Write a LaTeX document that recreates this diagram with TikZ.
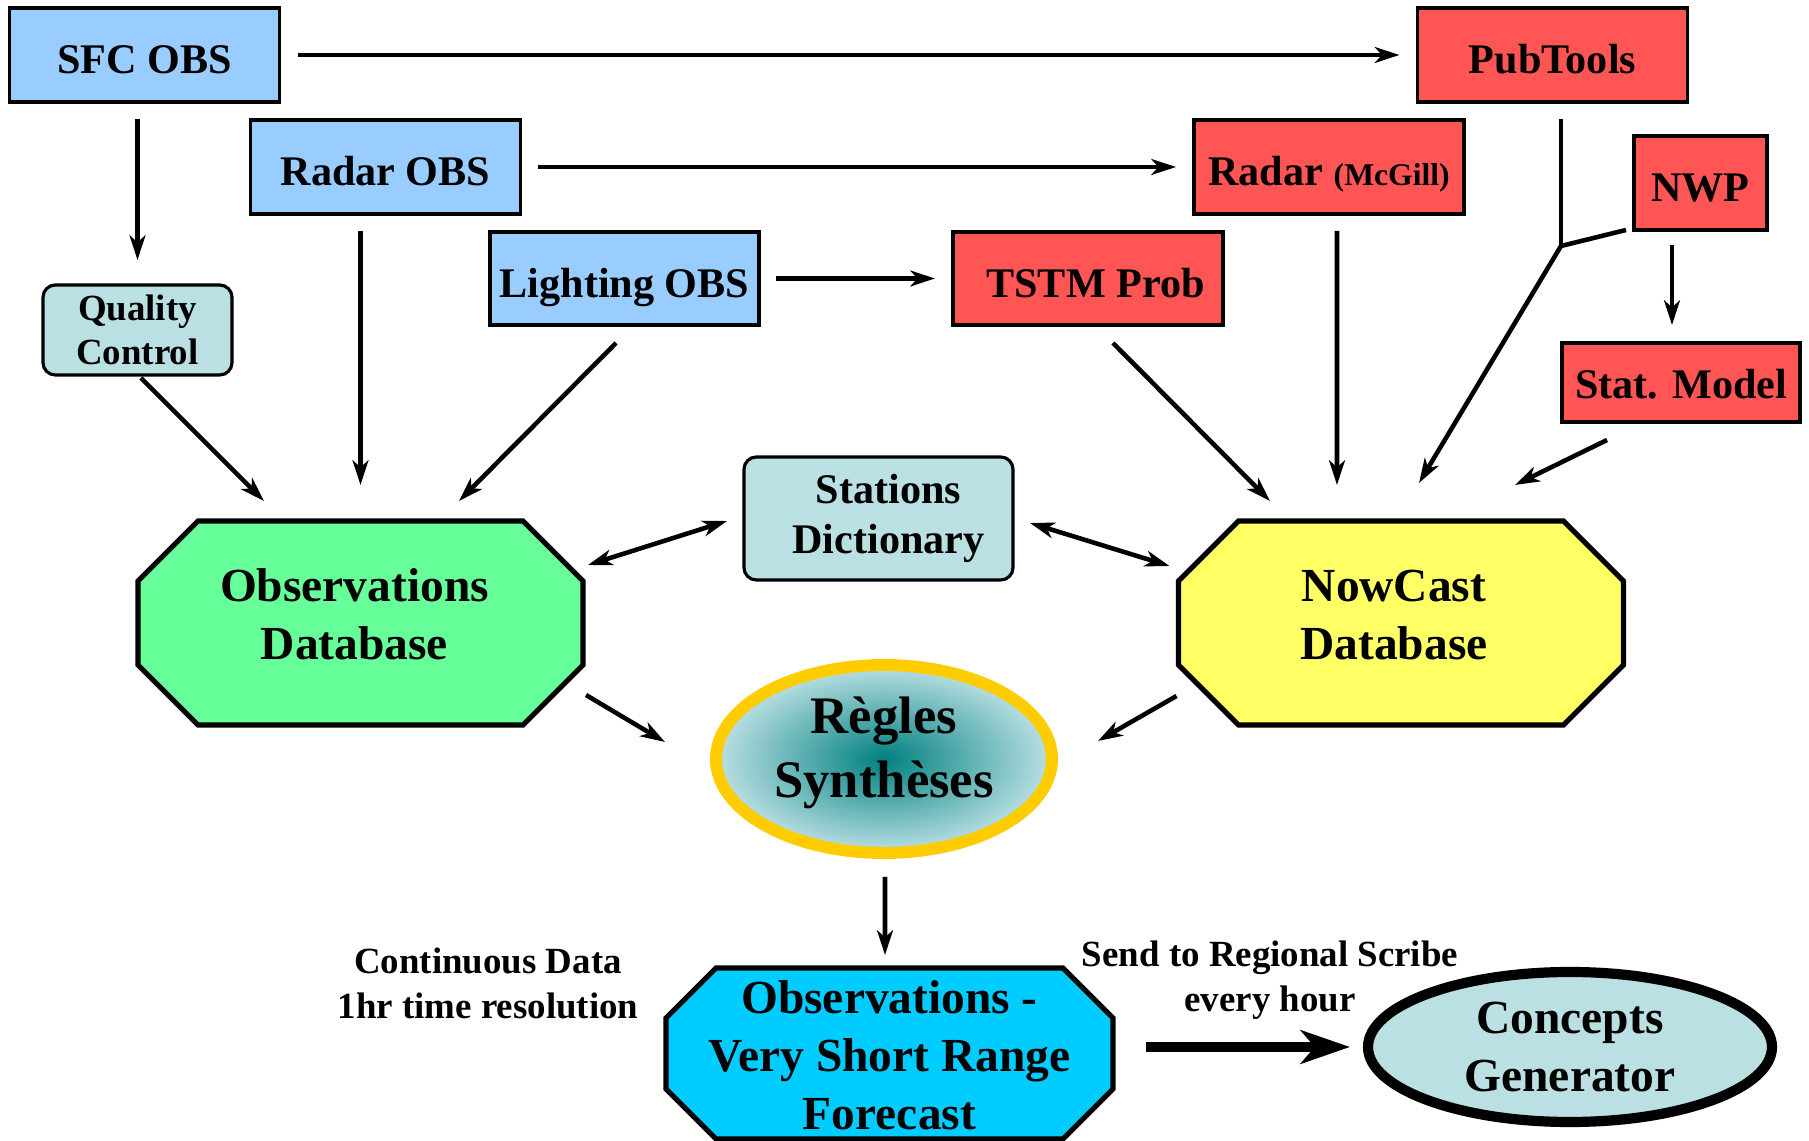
\documentclass[tikz,border=0pt]{standalone}
\usepackage{fontspec}
\setmainfont{Liberation Serif}
\usepackage{tikz}
\usetikzlibrary{arrows.meta,shapes.geometric,positioning,backgrounds}

\definecolor{obsblue}{HTML}{99CCFF}
\definecolor{prodred}{HTML}{FF5555}
\definecolor{paleteal}{HTML}{BBE0E3}
\definecolor{dbgreen}{HTML}{66FF99}
\definecolor{dbyellow}{HTML}{FFFF66}
\definecolor{vsrfblue}{HTML}{00CCFF}
\definecolor{ringgold}{HTML}{FFCC00}
\definecolor{deepteal}{HTML}{008080}

\newcommand{\fsz}[2]{\fontsize{#1}{#2}\selectfont\bfseries}
\newcommand{\octpath}[2]{([xshift=#2]#1.north west) -- ([xshift=-#2]#1.north east)
  -- ([yshift=-#2]#1.north east) -- ([yshift=#2]#1.south east)
  -- ([xshift=-#2]#1.south east) -- ([xshift=#2]#1.south west)
  -- ([yshift=#2]#1.south west) -- ([yshift=-#2]#1.north west) -- cycle}

\begin{document}
\begin{tikzpicture}
  [->,>={Stealth[length=7pt,width=4.5pt,inset=2pt]},line width=1.3pt,on grid,
   every node/.style={align=center,inner sep=0pt,outer sep=0pt}]
  \tikzstyle{srcbox}=[rectangle,draw=black,line width=0.9pt,fill=obsblue,
    minimum width=2.7cm,minimum height=0.94cm,text height=10.8pt,text depth=0pt,font=\fsz{12}{14}]
  \tikzstyle{prodbox}=[srcbox,fill=prodred]
  \tikzstyle{tealbox}=[rectangle,draw=black,line width=0.9pt,rounded corners=3.5pt,fill=paleteal]
  \tikzstyle{database}=[rectangle,text height=22pt,text depth=1.3pt,
    minimum width=4.45cm,minimum height=2.04cm,font=\fsz{13.5}{16.5}]
  \tikzstyle{dbline}=[-,draw=black,line width=1.5pt,line join=miter]
  \tikzstyle{notetext}=[font=\fsz{10.5}{12.8}]

  \useasboundingbox (0,0) rectangle (18.09,-11.41);

  \node[srcbox] (sfc) at (1.445,-0.55) {SFC OBS};
  \node[srcbox] (radarobs) [below right=1.12cm and 2.41cm of sfc] {Radar OBS};
  \node[srcbox,minimum width=2.69cm,minimum height=0.93cm] (lighting) [below right=1.115cm and 2.39cm of radarobs] {Lighting OBS};
  \node[tealbox,minimum width=1.89cm,minimum height=0.9cm,font=\fsz{10.5}{12.4}] (qc) at (1.375,-3.30) {Quality\\Control};
  \node[prodbox] (pub) at (15.525,-0.55) {PubTools};
  \node[prodbox] (mcgill) [below left=1.12cm and 2.235cm of pub] {Radar {\fsz{9}{10}(McGill)}};
  \node[prodbox,minimum height=0.93cm] (tstm) [below left=1.115cm and 2.41cm of mcgill] {\hspace{1.5mm}TSTM Prob};
  \node[prodbox,minimum width=1.33cm] (nwp) at (17.005,-1.83) {NWP};
  \node[prodbox,minimum width=2.38cm,minimum height=0.79cm,text height=9pt] (stat) at (16.81,-3.825) {Stat. Model};
  \node[tealbox,minimum width=2.69cm,minimum height=1.23cm,font=\fsz{12}{14.4}] (stations) at (8.785,-5.185) {\hspace{2mm}Stations\\\hspace{2mm}Dictionary};
  \node[database] (obsdb) at (3.605,-6.23) {Observations\hspace*{1.2mm}\\Database\hspace*{1.2mm}};
  \node[database] (nowcast) at (14.01,-6.23) {NowCast\hspace*{1.4mm}\\Database\hspace*{1.4mm}};
  \node[ellipse,draw=ringgold,line width=3.4pt,inner color=deepteal,outer color=paleteal,text depth=6.5pt,
    minimum width=3.36cm,minimum height=1.88cm,font=\fsz{15}{18.2}] (regles) at (8.84,-7.59) {Règles\\Synthèses};
  \node[database,text height=43.3pt,text depth=0pt,minimum width=4.47cm,minimum height=1.71cm] (vsrf)
    at (8.895,-10.535) {Observations -\\Very Short Range\\Forecast};
  \node[ellipse,draw=black,line width=2.9pt,fill=paleteal,minimum width=4.04cm,
    minimum height=1.5cm,font=\fsz{13.5}{16.5}] (concepts) at (15.70,-10.47) {Concepts\\Generator};
  \node[notetext] (contnote) at (4.88,-9.83) {Continuous Data\\1hr time resolution};
  \node[notetext] (sendnote) at (12.70,-9.80) {Send to Regional Scribe\\every hour};

  \begin{scope}[on background layer]
    \draw[dbline,fill=dbgreen] \octpath{obsdb}{6mm};
    \draw[dbline,fill=dbyellow] \octpath{nowcast}{6mm};
    \draw[dbline,fill=vsrfblue] \octpath{vsrf}{5mm};
  \end{scope}

  \draw[shorten <=1.8mm,shorten >=1.8mm] (sfc) -- (pub);
  \draw[shorten <=1.7mm,shorten >=2.5mm] (sfc.south -| qc) -- (qc);
  \draw[shorten <=1.7mm,shorten >=1.8mm] (radarobs) -- (mcgill);
  \draw[shorten <=1.7mm,shorten >=1.8mm] (lighting) -- (tstm);
  \draw ([shift={(0.035,-0.03)}]qc.south) -- ([shift={(-0.965,0.2)}]obsdb.north);
  \draw[shorten <=1.7mm,shorten >=3.6mm] (radarobs.south -| obsdb.north) -- (obsdb.north);
  \draw ([shift={(-0.085,-0.18)}]lighting.south) -- ([shift={(0.985,0.2)}]obsdb.north);
  \draw ([shift={(0.25,-0.18)}]tstm.south) -- ([shift={(-1.31,0.2)}]nowcast.north);
  \draw ([shift={(0.08,-0.17)}]mcgill.south) -- ([shift={(-0.64,0.36)}]nowcast.north);
  \coordinate (fork) at (15.61,-2.46);
  \draw[-] ([shift={(0.085,-0.17)}]pub.south) -- (fork);
  \draw[-] ([shift={(-0.08,0)}]nwp.south west) -- (fork);
  \draw (fork) -- ([shift={(0.18,0.38)}]nowcast.north);
  \draw ([shift={(-0.285,-0.15)}]nwp.south) -- ([shift={(-0.09,0.18)}]stat.north);
  \draw ([shift={(-0.74,-0.18)}]stat.south) -- ([shift={(1.14,0.36)}]nowcast.north);
  \draw[<->] ([shift={(0.05,0.58)}]obsdb.east) -- ([shift={(-0.17,-0.025)}]stations.west);
  \draw[<->] ([shift={(0.17,-0.045)}]stations.east) -- ([shift={(-0.09,0.57)}]nowcast.west);
  \draw ([shift={(0.03,-0.72)}]obsdb.east) -- ([shift={(-2.19,0.17)}]regles.center);
  \draw ([shift={(-0.02,-0.73)}]nowcast.west) -- ([shift={(2.14,0.18)}]regles.center);
  \draw ([shift={(0.01,-1.18)}]regles.center) -- ([shift={(-0.045,0.13)}]vsrf.north);
  \draw[line width=3.1pt,-{Stealth[length=14pt,width=9.5pt,inset=4pt]},shorten <=3.3mm,shorten >=1.8mm]
    (vsrf.east |- concepts) -- (concepts.west);
\end{tikzpicture}
\end{document}
